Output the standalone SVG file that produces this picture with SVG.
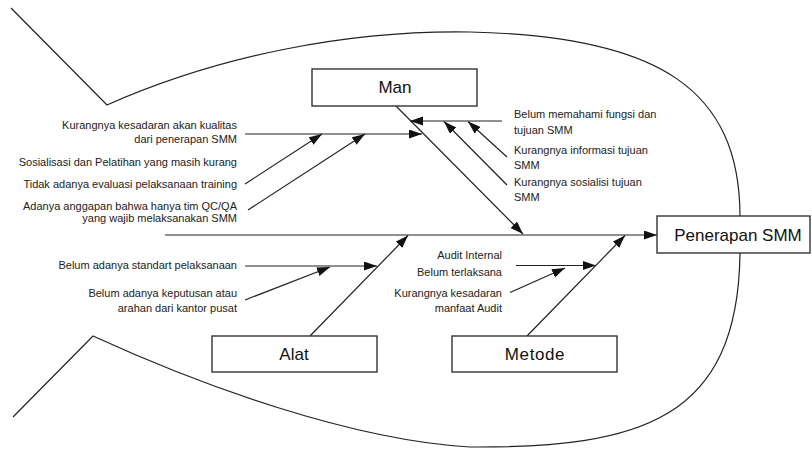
<svg xmlns="http://www.w3.org/2000/svg" width="812" height="449" viewBox="0 0 812 449">
<style>
.outline{fill:none;stroke:#222;stroke-width:1.2}
.ln{fill:none;stroke:#222;stroke-width:1.2}
.box{fill:#fff;stroke:#333;stroke-width:1.4}
.lbl{font-family:"Liberation Sans",Arial,sans-serif;font-size:11px;fill:#222}
.title{font-family:"Liberation Sans",Arial,sans-serif;font-size:17px;fill:#111;text-anchor:middle}
.r{text-anchor:end}
</style>
<defs>
<marker id="arr" markerUnits="userSpaceOnUse" markerWidth="14" markerHeight="10" refX="13" refY="4.5" orient="auto">
<path d="M0,0 L13,4.5 L0,9 Z" fill="#111"/>
</marker>
</defs>
<rect width="812" height="449" fill="#fff"/>
<g id="fish-outline">
<path class="outline" d="M11,8 L107,105 C220,55 350,30 470,32 C660,36 740,90 740,217"/>
<path class="outline" d="M13,417 L93,336 C200,385 350,440 470,447 C640,448 738,420 740,253"/>
</g>
<g id="connectors">
<line class="ln" x1="165" y1="235" x2="657" y2="235" marker-end="url(#arr)"/>
<line class="ln" x1="396" y1="106" x2="523" y2="234" marker-end="url(#arr)"/>
<line class="ln" x1="245" y1="134" x2="422" y2="134" marker-end="url(#arr)"/>
<line class="ln" x1="245" y1="184" x2="322" y2="134" marker-end="url(#arr)"/>
<line class="ln" x1="248" y1="210" x2="365" y2="134" marker-end="url(#arr)"/>
<line class="ln" x1="502" y1="121" x2="410" y2="121" marker-end="url(#arr)"/>
<line class="ln" x1="507" y1="157" x2="468" y2="121.5" marker-end="url(#arr)"/>
<line class="ln" x1="507" y1="185" x2="444" y2="121.5" marker-end="url(#arr)"/>
<line class="ln" x1="310" y1="336" x2="408" y2="235.5" marker-end="url(#arr)"/>
<line class="ln" x1="245" y1="266" x2="377" y2="266" marker-end="url(#arr)"/>
<line class="ln" x1="245" y1="300" x2="330" y2="267" marker-end="url(#arr)"/>
<line class="ln" x1="527" y1="336" x2="625" y2="235.5" marker-end="url(#arr)"/>
<line class="ln" x1="516" y1="265.5" x2="596" y2="265.5" marker-end="url(#arr)"/>
<line class="ln" x1="510" y1="292.5" x2="565" y2="268" marker-end="url(#arr)"/>
</g>
<g id="node-man">
<rect class="box" x="312" y="69" width="165" height="37"/>
<text class="title" x="395" y="93">Man</text>
</g>
<g id="node-alat">
<rect class="box" x="212" y="336" width="165" height="36"/>
<text class="title" x="294" y="360">Alat</text>
</g>
<g id="node-metode">
<rect class="box" x="452" y="336" width="165" height="36"/>
<text class="title" x="535" y="360" letter-spacing="0.6">Metode</text>
</g>
<g id="node-penerapan">
<rect class="box" x="657" y="216" width="153" height="37"/>
<text class="title" x="738" y="241">Penerapan SMM</text>
</g>
<g id="labels-man-left">
<text class="lbl r" x="237" y="129">Kurangnya kesadaran akan kualitas</text>
<text class="lbl r" x="237" y="143">dari penerapan SMM</text>
<text class="lbl r" x="237" y="166">Sosialisasi dan Pelatihan yang masih kurang</text>
<text class="lbl r" x="237" y="188">Tidak adanya evaluasi pelaksanaan training</text>
<text class="lbl r" x="237" y="210">Adanya anggapan bahwa hanya tim QC/QA</text>
<text class="lbl r" x="237" y="222">yang wajib melaksanakan SMM</text>
</g>
<g id="labels-man-right">
<text class="lbl" x="514" y="118">Belum memahami fungsi dan</text>
<text class="lbl" x="514" y="134">tujuan SMM</text>
<text class="lbl" x="514" y="154">Kurangnya informasi tujuan</text>
<text class="lbl" x="514" y="169">SMM</text>
<text class="lbl" x="514" y="186">Kurangnya sosialisi tujuan</text>
<text class="lbl" x="514" y="201">SMM</text>
</g>
<g id="labels-alat">
<text class="lbl r" x="237" y="269">Belum adanya standart pelaksanaan</text>
<text class="lbl r" x="237" y="297">Belum adanya keputusan atau</text>
<text class="lbl r" x="237" y="312">arahan dari kantor pusat</text>
</g>
<g id="labels-metode">
<text class="lbl r" x="502" y="259">Audit Internal</text>
<text class="lbl r" x="502" y="275.5">Belum terlaksana</text>
<text class="lbl r" x="502" y="296.5">Kurangnya kesadaran</text>
<text class="lbl r" x="502" y="311.5">manfaat Audit</text>
</g>
</svg>
